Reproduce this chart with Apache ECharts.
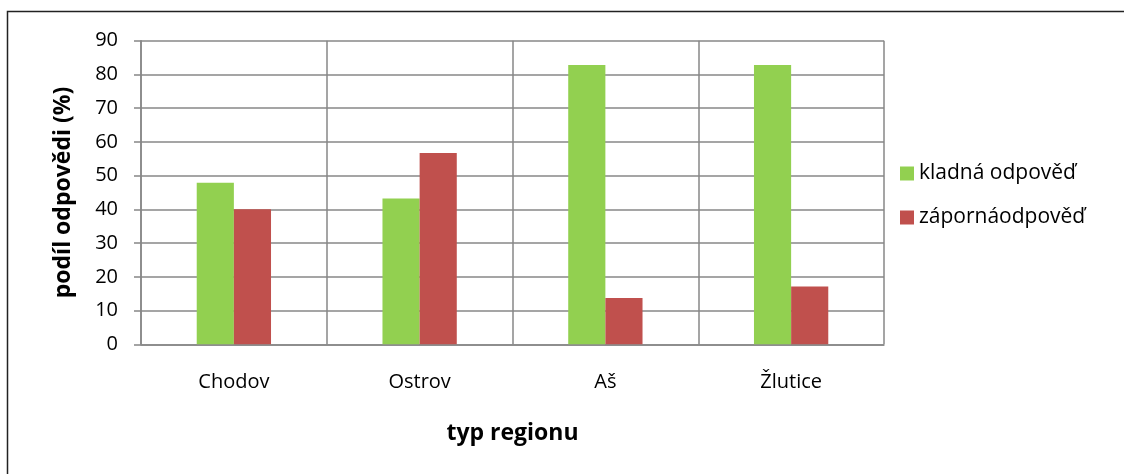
<!DOCTYPE html>
<html>
<head>
<meta charset="utf-8">
<script src="https://cdn.jsdelivr.net/npm/echarts@6/dist/echarts.min.js"></script>
<style>
  html, body { margin: 0; padding: 0; background: #fff; }
  #chart { width: 1124px; height: 474px; }
</style>
</head>
<body>
<div id="chart"></div>
<script>
// data
const regions = ['Chodov', 'Ostrov', 'Aš', 'Žlutice'];
const seriesNames = ['kladná odpověď', 'zápornáodpověď'];
const kladna = [47.9, 43.2, 82.8, 82.8];
const zaporna = [40.0, 56.7, 13.7, 17.1];
const yTicks = [0, 10, 20, 30, 40, 50, 60, 70, 80, 90];

const FONT = 'Open Sans';
const gridColor = '#878787';

const chart = echarts.init(document.getElementById('chart'));

chart.setOption({
  animation: false,
  backgroundColor: '#fff',
  textStyle: { fontFamily: FONT, color: '#000' },
  graphic: [{
    type: 'rect',
    shape: { x: 7.5, y: 11.5, width: 1300, height: 600 },
    style: { fill: 'none', stroke: '#222', lineWidth: 1.5 },
    silent: true
  }],
  grid: { left: 141, right: 240, top: 40.7, bottom: 129.7, containLabel: false },
  legend: {
    orient: 'vertical',
    left: 900,
    top: 161,
    padding: 0,
    itemWidth: 14,
    itemHeight: 14,
    itemGap: 19,
    icon: 'rect',
    data: seriesNames,
    textStyle: { fontFamily: FONT, fontSize: 21, color: '#000', lineHeight: 25 }
  },
  xAxis: {
    type: 'category',
    data: regions,
    name: 'typ regionu',
    nameLocation: 'middle',
    nameGap: 78,
    nameTextStyle: { fontFamily: FONT, fontSize: 23, fontWeight: 'bold', color: '#000' },
    axisLine: { show: true, lineStyle: { color: gridColor, width: 1.5 } },
    axisTick: { show: false },
    axisLabel: { fontFamily: FONT, fontSize: 20, color: '#000', margin: 28 },
    splitLine: { show: true, lineStyle: { color: gridColor, width: 1.5 } }
  },
  yAxis: {
    type: 'value',
    min: yTicks[0],
    max: yTicks[yTicks.length - 1],
    interval: 10,
    name: 'podíl odpovědi (%)',
    nameLocation: 'middle',
    nameGap: 66,
    nameTextStyle: { fontFamily: FONT, fontSize: 23, fontWeight: 'bold', color: '#000' },
    axisLine: { show: true, lineStyle: { color: gridColor, width: 1.5 } },
    axisTick: { show: true, length: 7, lineStyle: { color: gridColor, width: 1.5 } },
    axisLabel: { fontFamily: FONT, fontSize: 20, color: '#000', margin: 23 },
    splitLine: { show: true, lineStyle: { color: gridColor, width: 1.5 } }
  },
  series: [
    {
      name: seriesNames[0],
      type: 'bar',
      data: kladna,
      barGap: '0%',
      barCategoryGap: '60%',
      itemStyle: { color: '#92D050' }
    },
    {
      name: seriesNames[1],
      type: 'bar',
      data: zaporna,
      barGap: '0%',
      barCategoryGap: '60%',
      itemStyle: { color: '#C0504D' }
    }
  ]
});
</script>
</body>
</html>
